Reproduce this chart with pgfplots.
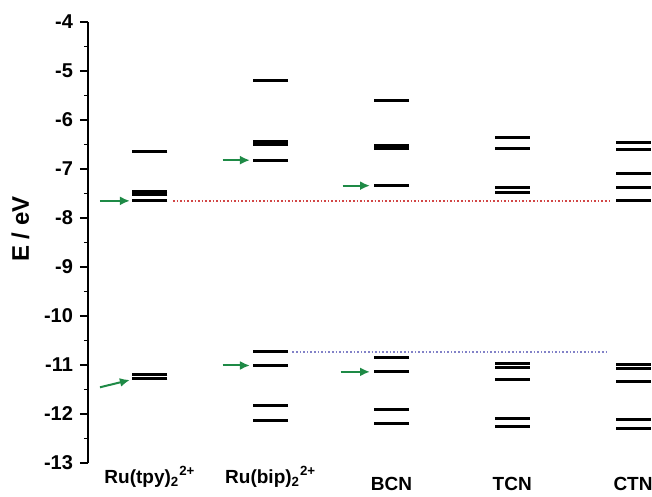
\documentclass[border=0pt]{standalone}
\usepackage{pgfplots}
\pgfplotsset{compat=1.18}
\usepackage{pgfplotstable}
\usepackage{fontspec}
\setmainfont{Liberation Sans}
\usetikzlibrary{arrows.meta}

\definecolor{arrgreen}{RGB}{30,138,70}
\definecolor{dotred}{RGB}{210,70,70}
\definecolor{dotblue}{RGB}{130,130,200}

% energy levels: column, E (eV)
\pgfplotstableread{
x E
1 -6.65
1 -7.455
1 -7.515
1 -7.65
1 -11.204
1 -11.276
2 -5.20
2 -6.43
2 -6.50
2 -6.82
2 -10.73
2 -11.01
2 -11.82
2 -12.14
3 -5.61
3 -6.52
3 -6.58
3 -7.34
3 -10.84
3 -11.14
3 -11.91
3 -12.20
4 -6.35
4 -6.59
4 -7.37
4 -7.47
4 -10.97
4 -11.06
4 -11.30
4 -12.10
4 -12.26
5 -6.45
5 -6.61
5 -7.09
5 -7.37
5 -7.65
5 -10.99
5 -11.07
5 -11.33
5 -12.11
5 -12.29
}\levels

\begin{document}
\begin{tikzpicture}
\begin{axis}[
  scale only axis,
  width=282pt, height=220.5pt,
  xmin=0.487, xmax=5.157,
  ymin=-13, ymax=-4,
  clip=false,
  axis y line*=left,
  axis x line*=bottom,
  x axis line style={draw=none},
  y axis line style={line width=1pt},
  xtick={1,2,3,4,5},
  xticklabels={\raisebox{3.5pt}{Ru(tpy)\textsubscript{2}\textsuperscript{2+}},
               \raisebox{3.5pt}{Ru(bip)\textsubscript{2}\textsuperscript{2+}},
               BCN, TCN, CTN},
  xtick style={draw=none},
  x tick label style={anchor=base, yshift=-9.5pt, font=\fontsize{9.5}{12}\selectfont\bfseries},
  ytick={-13,-12,-11,-10,-9,-8,-7,-6,-5,-4},
  yticklabels={-13,-12,-11,-10,-9,-8,-7,-6,-5,-4},
  minor ytick={-12.5,-11.5,-10.5,-9.5,-8.5,-7.5,-6.5,-5.5,-4.5},
  y tick label style={font=\fontsize{10}{12}\selectfont\bfseries},
  tick align=outside,
  major tick length=4pt,
  minor tick length=2pt,
  ytick style={line width=1pt, black},
  minor y tick style={line width=0.8pt, black},
  ylabel={E / eV},
  ylabel style={at={(axis description cs:-0.12,0.53)}, anchor=center,
                font=\fontsize{12}{14}\selectfont\bfseries},
]
% reference dotted lines
\addplot[dotred, densely dotted, line width=0.8pt] coordinates {(1.19,-7.65) (4.81,-7.65)};
\addplot[dotblue, densely dotted, line width=0.8pt] coordinates {(2.18,-10.73) (4.79,-10.73)};
% energy levels
\addplot[only marks, mark=-, mark size=8.75pt,
  mark options={line width=1.5pt, black}] table[x=x, y=E] {\levels};
% green arrows
\pgfplotsset{arr/.style={arrgreen, line width=1pt, -{Latex[length=5pt,width=4.5pt]}}}
\addplot[arr] coordinates {(0.586,-7.65) (0.834,-7.65)};
\addplot[arr] coordinates {(0.586,-11.455) (0.834,-11.306)};
\addplot[arr] coordinates {(1.602,-6.82) (1.828,-6.82)};
\addplot[arr] coordinates {(1.602,-11.01) (1.828,-11.01)};
\addplot[arr] coordinates {(2.596,-7.34) (2.822,-7.34)};
\addplot[arr] coordinates {(2.579,-11.14) (2.822,-11.14)};
\end{axis}
\pgfresetboundingbox
\path (-44pt,-17pt) rectangle (282pt,231.5pt);
\end{tikzpicture}
\end{document}
